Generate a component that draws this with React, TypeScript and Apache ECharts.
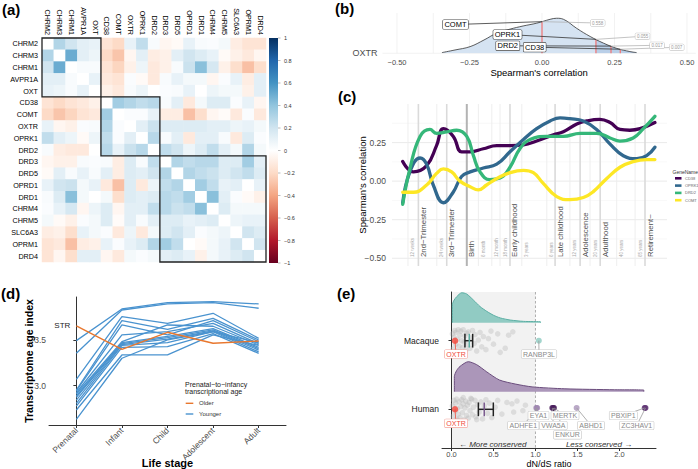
import React, { useEffect, useRef } from 'react';
import * as echarts from 'echarts';

const FONT = '"Liberation Sans", Arial, Helvetica, sans-serif';
const W = 698;
const H = 469;

// ---------------- (a) correlation heatmap ----------------
const genes = ['CHRM2', 'CHRM3', 'CHRM1', 'AVPR1A', 'OXT', 'CD38', 'COMT', 'OXTR', 'OPRK1', 'DRD2', 'DRD3', 'DRD5', 'OPRD1', 'DRD1', 'CHRM4', 'CHRM5', 'SLC6A3', 'OPRM1', 'DRD4'];
// upper triangle, row i holds correlations with genes i+1 .. end
const corrUpper = [
  [0.30, 0.20, 0.12, 0.10, -0.15, -0.20, 0.10, 0.25, 0.03, -0.05, -0.03, 0.10, 0.03, 0.02, 0.05, -0.10, -0.15, -0.15],
  [0.50, 0.12, 0.08, -0.20, -0.28, -0.05, 0.12, -0.10, -0.08, 0.12, 0.20, 0.15, 0.10, -0.03, -0.08, -0.12, -0.05],
  [0.03, 0.03, -0.15, -0.22, -0.08, 0.08, -0.12, -0.08, 0.03, 0.22, 0.42, 0.18, -0.08, -0.18, -0.30, -0.18],
  [0.10, -0.12, -0.15, 0.02, -0.03, -0.12, 0.03, 0.10, 0.05, 0.05, -0.05, 0.02, 0.10, -0.10, 0.12],
  [-0.08, -0.12, 0.03, 0.08, 0.00, 0.02, 0.03, 0.10, 0.00, 0.08, 0.05, 0.05, -0.08, 0.12],
  [0.35, 0.30, 0.25, 0.28, 0.03, 0.12, -0.12, 0.05, 0.15, 0.15, 0.02, 0.10, -0.05],
  [0.02, 0.02, 0.10, -0.10, -0.10, -0.30, -0.18, -0.05, -0.02, -0.12, 0.02, -0.12],
  [0.12, 0.22, 0.15, 0.15, 0.15, 0.15, 0.12, 0.12, 0.08, 0.10, 0.05],
  [0.28, 0.03, 0.12, -0.12, 0.12, 0.12, 0.03, -0.12, 0.15, 0.02],
  [0.25, 0.20, 0.08, 0.15, 0.25, 0.12, 0.05, 0.30, 0.05],
  [0.30, 0.25, 0.28, 0.28, 0.15, 0.15, 0.35, 0.12],
  [0.30, 0.25, 0.22, 0.15, 0.20, 0.25, 0.15],
  [0.35, 0.25, 0.10, 0.12, 0.00, 0.10],
  [0.42, 0.12, 0.02, -0.03, -0.08],
  [0.15, 0.05, 0.05, 0.05],
  [0.08, 0.10, 0.10],
  [0.20, 0.15],
  [0.20],
];
const geneBlocks = [[0, 4], [5, 9], [10, 18]];
const colorbarTicks = [1, 0.8, 0.6, 0.4, 0.2, 0, -0.2, -0.4, -0.6, -0.8, -1];

// ---------------- (b) OXTR ridge ----------------
const ridgeCorr = [-0.345, -0.30, -0.248, -0.20, -0.157, -0.11, -0.065, -0.018, 0.028, 0.05, 0.074, 0.12, 0.166, 0.212, 0.258, 0.303, 0.326];
const ridgeDensity = [0.02, 0.095, 0.19, 0.38, 0.57, 0.69, 0.78, 0.86, 0.97, 1.0, 0.97, 0.71, 0.48, 0.29, 0.14, 0.05, 0.02];
const oxtrPartners = ['COMT', 'OPRK1', 'DRD2', 'CD38'];
const oxtrCorr = [0.0, 0.186, 0.238, 0.27];
const oxtrPValues = ['0.558', '0.055', '0.017', '0.007'];
const ridgeTicks = [-0.5, -0.25, 0, 0.25, 0.5];
const ridgeGridLines = [-0.5, -0.375, -0.25, -0.125, 0, 0.125, 0.25, 0.375, 0.5];

// ---------------- (c) developmental trajectories ----------------
const trendGenes = ['CD38', 'OPRK1', 'DRD2', 'COMT'];
const cd38Trend = [[3.9, 0.127], [7.8, 0.06], [12.6, 0.10], [16.2, 0.23], [18.7, 0.34], [22.3, 0.29], [25.3, 0.19], [28.4, 0.19], [33.2, 0.21], [38.1, 0.23], [42.9, 0.23], [47.8, 0.235], [52.6, 0.26], [58.7, 0.30], [62.3, 0.32], [67.2, 0.37], [70.8, 0.39], [75.6, 0.40], [79.3, 0.38], [82.9, 0.335], [86.5, 0.33], [90.2, 0.34], [95.6, 0.38]];
const oprk1Trend = [[3.9, -0.14], [6.5, 0.06], [10.2, 0.15], [12.6, 0.11], [15.0, -0.025], [18.7, -0.14], [22.3, -0.07], [25.3, 0.03], [28.4, 0.06], [33.2, 0.085], [38.1, 0.11], [42.9, 0.19], [47.8, 0.27], [52.6, 0.34], [57.5, 0.39], [61.1, 0.41], [64.7, 0.405], [69.6, 0.39], [74.4, 0.335], [79.3, 0.24], [84.1, 0.165], [89.0, 0.145], [92.6, 0.165], [95.6, 0.22]];
const drd2Trend = [[3.9, -0.15], [6.5, 0.08], [10.2, 0.29], [13.8, 0.335], [16.2, 0.31], [19.9, 0.32], [23.5, 0.33], [27.2, 0.29], [29.6, 0.165], [32.0, 0.06], [35.6, 0.01], [39.3, 0.02], [42.9, 0.09], [46.5, 0.21], [50.2, 0.27], [56.2, 0.29], [62.3, 0.29], [68.4, 0.31], [74.4, 0.31], [79.3, 0.28], [82.9, 0.26], [87.7, 0.28], [91.4, 0.34], [95.6, 0.42]];
const comtTrend = [[3.9, -0.072], [7.8, -0.072], [12.6, -0.025], [16.2, 0.05], [18.7, 0.08], [21.7, 0.06], [24.7, 0.0], [28.4, -0.036], [31.4, -0.057], [34.4, -0.025], [38.1, 0.017], [42.9, 0.055], [47.8, 0.07], [51.4, 0.055], [55.0, -0.015], [59.9, -0.10], [64.7, -0.12], [69.6, -0.106], [73.2, -0.068], [78.1, 0.017], [82.9, 0.09], [87.7, 0.127], [92.6, 0.14], [95.6, 0.14]];
const devStages = ['12 weeks', '2nd\u2212Trimester', '24 weeks', '3rd\u2212Trimester', 'Birth', '6 month', '12 month', '18 month', 'Early childhood', '3 years', '6 years', 'Late childhood', '12 years', 'Adolescence', '20 years', 'Adulthood', '40 years', '65 years', 'Retirement~'];
const devStagePos = [5.8, 9.6, 16.3, 19.9, 27.2, 31.4, 36.3, 39.3, 42.9, 47.2, 56.3, 59.3, 64.7, 68.4, 72.0, 75.7, 81.7, 88.4, 92.0];
const devStageMajor = [false, true, false, true, true, false, false, false, true, false, false, true, false, true, false, true, false, false, true];
const corrTicks = [-0.5, -0.25, 0, 0.25];

// ---------------- (d) transcriptome age ----------------
const lifeStages = ['Prenatal', 'Infant', 'Child', 'Adolescent', 'Adult'];
const strAgeIndex = [3.653, 3.398, 3.584, 3.464, 3.489];
const youngerAgeIndex = [
  [3.493, 3.839, 3.909, 3.920, 3.894],
  [3.354, 3.828, 3.894, 3.909, 3.847],
  [3.069, 3.755, 3.682, 3.792, 3.518],
  [2.953, 3.712, 3.617, 3.737, 3.500],
  [2.942, 3.664, 3.555, 3.712, 3.482],
  [2.923, 3.555, 3.591, 3.682, 3.460],
  [2.909, 3.482, 3.664, 3.650, 3.445],
  [2.887, 3.470, 3.540, 3.625, 3.420],
  [2.872, 3.460, 3.525, 3.610, 3.405],
  [2.843, 3.450, 3.510, 3.600, 3.390],
  [2.807, 3.440, 3.470, 3.590, 3.370],
  [2.777, 3.420, 3.427, 3.570, 3.354],
  [2.734, 3.336, 3.336, 3.555, 3.440],
  [2.631, 3.300, 3.500, 3.590, 3.470],
];
const ageTicks = [3.0, 3.5];

// ---------------- (e) dN/dS ----------------
const species = ['Human', 'Macaque'];
const dndsTicks = [0, 0.5, 1, 1.5, 2];
const macaqueDensityX = [0.01, 0.01, 0.03, 0.062, 0.122, 0.18, 0.26, 0.34, 0.42, 0.50, 0.58, 0.70, 0.86, 1.06, 1.06];
const macaqueDensity = [0, 0.6, 0.75, 0.87, 1.0, 0.96, 0.76, 0.54, 0.38, 0.25, 0.16, 0.09, 0.045, 0.03, 0];
const humanDensityX = [0.034, 0.034, 0.06, 0.10, 0.20, 0.30, 0.42, 0.57, 0.76, 0.96, 1.35, 1.94, 2.29, 2.29];
const humanDensity = [0, 0.5, 0.7, 0.84, 1.0, 0.9, 0.66, 0.39, 0.255, 0.16, 0.096, 0.064, 0.053, 0];
const macaqueDnds = [0.01, 0.02, 0.03, 0.04, 0.05, 0.05, 0.06, 0.07, 0.08, 0.09, 0.10, 0.10, 0.11, 0.12, 0.13, 0.14, 0.15, 0.16, 0.17, 0.18, 0.19, 0.20, 0.22, 0.23, 0.25, 0.27, 0.28, 0.30, 0.32, 0.34, 0.36, 0.38, 0.41, 0.44, 0.47, 0.50, 0.55, 0.58, 0.64, 0.68, 0.73];
const macaqueJitter = [0.10, -0.12, 0.05, 0.15, -0.05, 0.12, -0.15, 0.02, 0.16, -0.08, 0.08, -0.16, 0.14, 0.00, -0.10, 0.16, -0.02, 0.07, -0.14, 0.11, -0.06, 0.13, -0.11, 0.04, 0.15, -0.04, 0.09, -0.15, 0.01, 0.12, -0.09, 0.06, -0.13, 0.03, 0.14, -0.05, 0.10, -0.17, -0.11, 0.08, 0.13];
const humanDnds = [0.01, 0.02, 0.03, 0.04, 0.05, 0.06, 0.06, 0.07, 0.08, 0.09, 0.10, 0.11, 0.12, 0.13, 0.14, 0.15, 0.16, 0.17, 0.18, 0.19, 0.20, 0.21, 0.22, 0.24, 0.25, 0.26, 0.28, 0.29, 0.31, 0.33, 0.35, 0.37, 0.39, 0.41, 0.43, 0.45, 0.48, 0.52, 0.55, 0.60, 0.66, 0.72, 0.74, 0.78, 0.85, 0.88, 0.08, 0.14, 0.23, 0.30];
const humanJitter = [0.05, -0.10, 0.13, -0.03, 0.09, -0.14, 0.15, 0.01, -0.07, 0.11, -0.12, 0.04, 0.14, -0.05, 0.08, -0.15, 0.02, 0.12, -0.09, 0.06, -0.13, 0.10, -0.02, 0.15, -0.08, 0.03, 0.13, -0.11, 0.07, -0.04, 0.11, -0.14, 0.05, 0.14, -0.06, 0.09, -0.12, 0.03, 0.13, -0.07, 0.10, 0.08, -0.04, 0.12, -0.02, 0.06, -0.16, 0.17, 0.16, -0.15];
const macaqueCI = [0.16, 0.252];
const macaqueMedian = 0.212;
const humanCI = [0.32, 0.498];
const humanMedian = 0.39;
const oxtrDnds = [0.042, 0.042]; // human, macaque
const macaqueOutliers = ['RANBP3L'];
const macaqueOutlierDnds = [1.04];
const humanOutliers = ['EYA1', 'ADHFE1', 'VWA5A', 'MERTK', 'ENKUR', 'ABHD1', 'PBXIP1', 'ZC3HAV1'];
const humanOutlierDnds = [1.01, 1.02, 1.2, 1.22, 1.21, 1.49, 2.3, 2.31];

// ---------------- styles / layout ----------------
const RDBU = ['#67001F', '#B2182B', '#D6604D', '#F4A582', '#FDDBC7', '#FFFFFF', '#D1E5F0', '#92C5DE', '#4393C3', '#2166AC', '#053061'];
const GENE_COLORS = ['#440154', '#31688E', '#35B779', '#FDE725'];
const ORANGE = '#E8772E';
const BLUE = '#4A93CF';
const TEAL_FILL = '#86c7be';
const TEAL_LINE = '#5aaea3';
const PURPLE_FILL = '#a38cb3';
const PURPLE_LINE = '#6a4c7c';
const HUMAN_OUTLIER_COLORS = ['#9c83ae', '#9c83ae', '#4b1f5e', '#3f1652', '#4b1f5e', '#a993b9', '#5c2f70', '#5c2f70'];
const MACAQUE_OUTLIER_COLORS = ['#8ccac1'];

const GRID_A = { left: 42, top: 38, width: 224, height: 224 };
const LAYOUT = {
  bLabel: [[455.5, 24.5], [507.5, 34.5], [507.8, 45.8], [534.7, 47.2]],
  bPLabel: [[597.7, 23], [642.5, 36.3], [657, 45.3], [676.7, 47.3]],
  eMacaqueLabels: { OXTR: [456, 354], RANBP3L: [539, 354] } as Record<string, number[]>,
  eHumanLabels: { OXTR: [456, 423.3], EYA1: [538.5, 415.5], ADHFE1: [523.3, 425.5], VWA5A: [553.3, 425.5], MERTK: [565, 415.5], ENKUR: [567.5, 434.8], ABHD1: [591, 425.5], PBXIP1: [623.3, 415.5], ZC3HAV1: [636.7, 425.5] } as Record<string, number[]>,
};

const fmtSigned = (v: number, d: number) => (v < -1e-9 ? '\u2212' : '') + Math.abs(v).toFixed(d);

function buildHeat() {
  const n = genes.length;
  const out: number[][] = [];
  for (let i = 0; i < n; i++) {
    for (let j = 0; j < n; j++) {
      let v = 0;
      if (i < j) v = corrUpper[i][j - i - 1];
      else if (i > j) v = corrUpper[j][i - j - 1];
      out.push([j, i, v]);
    }
  }
  return out;
}

function interp(xs: number[], ys: number[], x: number) {
  for (let i = 0; i < xs.length - 1; i++) {
    if (x >= xs[i] && x <= xs[i + 1]) {
      const t = (x - xs[i]) / (xs[i + 1] - xs[i] || 1);
      return ys[i] + t * (ys[i + 1] - ys[i]);
    }
  }
  return 0;
}

const vRule = (ax: number, values: number[], yRef: number, style: any, z = 1) => ({
  type: 'custom', xAxisIndex: ax, yAxisIndex: ax, silent: true, z, clip: false,
  data: values.map((v) => [v, yRef]),
  encode: { x: 0, y: 1 },
  renderItem: (params: any, api: any) => {
    const cs = params.coordSys;
    const x = api.coord([api.value(0), api.value(1)])[0];
    return { type: 'line', shape: { x1: x, y1: cs.y, x2: x, y2: cs.y + cs.height }, style };
  },
});
const hRule = (ax: number, values: number[], xRef: number, style: any, z = 1) => ({
  type: 'custom', xAxisIndex: ax, yAxisIndex: ax, silent: true, z, clip: false,
  data: values.map((v) => [xRef, v]),
  encode: { x: 0, y: 1 },
  renderItem: (params: any, api: any) => {
    const cs = params.coordSys;
    const y = api.coord([api.value(0), api.value(1)])[1];
    return { type: 'line', shape: { x1: cs.x, y1: y, x2: cs.x + cs.width, y2: y }, style };
  },
});

function buildOption() {
  const axisLine = { show: true, lineStyle: { color: '#333', width: 1 } };
  const tick = (vals: number[]) => ({ show: true, customValues: vals, length: 3, lineStyle: { color: '#333', width: 1 } });
  const noAxis = { axisLine: { show: false }, axisTick: { show: false }, splitLine: { show: false } };

  const ridgeData = ridgeCorr.map((x, i) => [x, ridgeDensity[i]]);
  const tailStart = oxtrCorr[1];
  const tailData = [[tailStart, interp(ridgeCorr, ridgeDensity, tailStart)], ...ridgeData.filter((p) => p[0] > tailStart)];

  const macBase = 2.262;
  const humBase = 1.257;
  const densPeak = 0.437;

  const series: any[] = [];
  // (a)
  series.push({ type: 'heatmap', xAxisIndex: 0, yAxisIndex: 0, data: buildHeat(), itemStyle: { borderWidth: 0 }, emphasis: { disabled: true } });
  // (b)
  series.push(vRule(1, ridgeGridLines, 0.5, { stroke: '#ececec', lineWidth: 0.7 }));
  series.push(hRule(1, [0], 0, { stroke: '#ececec', lineWidth: 0.7 }));
  series.push({ type: 'line', xAxisIndex: 1, yAxisIndex: 1, data: ridgeData, smooth: 0.4, showSymbol: false, silent: true, z: 2, lineStyle: { width: 0 }, areaStyle: { color: '#d5e3f2', opacity: 1 } });
  series.push({ type: 'line', xAxisIndex: 1, yAxisIndex: 1, data: tailData, smooth: 0.4, showSymbol: false, silent: true, z: 3, lineStyle: { width: 0 }, areaStyle: { color: '#b9cfe8', opacity: 1 } });
  series.push({
    type: 'custom', xAxisIndex: 1, yAxisIndex: 1, silent: true, z: 4,
    data: oxtrCorr.map((r) => [r, interp(ridgeCorr, ridgeDensity, r)]),
    encode: { x: 0, y: 1 },
    renderItem: (_p: any, api: any) => {
      const a = api.coord([api.value(0), 0]);
      const b = api.coord([api.value(0), api.value(1)]);
      return { type: 'line', shape: { x1: a[0], y1: a[1], x2: b[0], y2: b[1] }, style: { stroke: '#ee7b7b', lineWidth: 1.3 } };
    },
  });
  series.push({ type: 'line', xAxisIndex: 1, yAxisIndex: 1, data: ridgeData, smooth: 0.4, showSymbol: false, silent: true, z: 5, lineStyle: { color: '#333', width: 0.8 } });
  // (c)
  series.push(hRule(2, corrTicks, 50, { stroke: '#e8e8e8', lineWidth: 0.9 }));
  series.push(hRule(2, [-0.375, -0.125, 0.125, 0.375], 50, { stroke: '#f3f3f3', lineWidth: 0.6 }));
  series.push(vRule(2, devStagePos.filter((_, i) => !devStageMajor[i]), 0, { stroke: '#ececec', lineWidth: 0.9 }));
  series.push(vRule(2, devStagePos.filter((_, i) => devStageMajor[i] && devStages[i] !== 'Birth'), 0, { stroke: '#dadada', lineWidth: 1.6 }));
  series.push(vRule(2, devStagePos.filter((_, i) => devStages[i] === 'Birth'), 0, { stroke: '#b3b3b3', lineWidth: 2 }));
  [cd38Trend, oprk1Trend, drd2Trend, comtTrend].forEach((d, k) => {
    series.push({ type: 'line', name: trendGenes[k], xAxisIndex: 2, yAxisIndex: 2, data: d, smooth: 0.45, showSymbol: false, silent: true, z: 5, lineStyle: { color: GENE_COLORS[k], width: 3.3, cap: 'round' } });
  });
  // (d)
  youngerAgeIndex.forEach((row) => {
    series.push({ type: 'line', xAxisIndex: 3, yAxisIndex: 3, data: row.map((v, i) => [i, v]), showSymbol: false, silent: true, z: 3, lineStyle: { color: BLUE, width: 1.3 } });
  });
  series.push({ type: 'line', xAxisIndex: 3, yAxisIndex: 3, data: strAgeIndex.map((v, i) => [i, v]), showSymbol: false, silent: true, z: 4, lineStyle: { color: ORANGE, width: 1.4 } });
  // (e)
  series.push({
    type: 'custom', xAxisIndex: 4, yAxisIndex: 4, silent: true, z: 0, data: [[0, 1, 1]], encode: { x: [0, 1], y: 2 },
    renderItem: (params: any, api: any) => {
      const cs = params.coordSys;
      const a = api.coord([api.value(0), 1])[0];
      const b = api.coord([api.value(1), 1])[0];
      return { type: 'rect', shape: { x: a, y: cs.y, width: b - a, height: cs.height }, style: { fill: '#f2f2f2' } };
    },
  });
  series.push(vRule(4, [1], 1, { stroke: '#9a9a9a', lineWidth: 0.8, lineDash: [2.5, 2] }, 1));
  series.push({ type: 'line', xAxisIndex: 4, yAxisIndex: 4, data: macaqueDensityX.map((x, i) => [x, macBase + macaqueDensity[i] * densPeak]), smooth: 0.25, showSymbol: false, silent: true, z: 2, lineStyle: { color: TEAL_LINE, width: 1 }, areaStyle: { color: TEAL_FILL, opacity: 0.9, origin: macBase } });
  series.push({ type: 'line', xAxisIndex: 4, yAxisIndex: 4, data: humanDensityX.map((x, i) => [x, humBase + humanDensity[i] * densPeak]), smooth: 0.25, showSymbol: false, silent: true, z: 2, lineStyle: { color: PURPLE_LINE, width: 1 }, areaStyle: { color: PURPLE_FILL, opacity: 0.9, origin: humBase } });
  series.push({ type: 'scatter', xAxisIndex: 4, yAxisIndex: 4, silent: true, z: 3, symbolSize: 5.5, itemStyle: { color: 'rgba(180,180,180,0.45)' }, data: macaqueDnds.map((x, i) => [x, 2 + macaqueJitter[i]]) });
  series.push({ type: 'scatter', xAxisIndex: 4, yAxisIndex: 4, silent: true, z: 3, symbolSize: 5.5, itemStyle: { color: 'rgba(180,180,180,0.45)' }, data: humanDnds.map((x, i) => [x, 1 + humanJitter[i]]) });
  const ciColors = [TEAL_LINE, '#7a5a8e'];
  series.push({
    type: 'custom', xAxisIndex: 4, yAxisIndex: 4, silent: true, z: 6,
    data: [[macaqueCI[0], macaqueMedian, macaqueCI[1], 2], [humanCI[0], humanMedian, humanCI[1], 1]],
    encode: { x: [0, 1, 2], y: 3 },
    renderItem: (params: any, api: any) => {
      const yc = api.value(3);
      const c = 0.1;
      const ln = (xv: number, y1: number, y2: number, stroke: string) => {
        const p1 = api.coord([xv, y1]);
        const p2 = api.coord([xv, y2]);
        return { type: 'line', shape: { x1: p1[0], y1: p1[1], x2: p2[0], y2: p2[1] }, style: { stroke, lineWidth: 1.5 } };
      };
      const l = api.coord([api.value(0), yc]);
      const r = api.coord([api.value(2), yc]);
      return {
        type: 'group', children: [
          { type: 'line', shape: { x1: l[0], y1: l[1], x2: r[0], y2: r[1] }, style: { stroke: '#222', lineWidth: 1.5 } },
          ln(api.value(0), yc - c, yc + c, '#222'),
          ln(api.value(2), yc - c, yc + c, '#222'),
          ln(api.value(1), yc - c, yc + c, ciColors[params.dataIndex]),
        ],
      };
    },
  });
  series.push({ type: 'scatter', xAxisIndex: 4, yAxisIndex: 4, silent: true, z: 8, symbolSize: 6.5, itemStyle: { color: '#F5473B' }, data: [[oxtrDnds[1], 2], [oxtrDnds[0], 1]] });
  series.push({ type: 'scatter', xAxisIndex: 4, yAxisIndex: 4, silent: true, z: 8, symbolSize: 6, data: macaqueOutlierDnds.map((x, i) => ({ value: [x, 2], itemStyle: { color: MACAQUE_OUTLIER_COLORS[i] } })) });
  series.push({ type: 'scatter', xAxisIndex: 4, yAxisIndex: 4, silent: true, z: 8, symbolSize: 6, data: humanOutlierDnds.map((x, i) => ({ value: [x, 1.02], itemStyle: { color: HUMAN_OUTLIER_COLORS[i] } })) });

  const grids = [
    GRID_A,
    { left: 382.5, top: 13, width: 313.2, height: 40.3 },
    { left: 392, top: 104, width: 275, height: 162 },
    { left: 49, top: 297, width: 237, height: 128 },
    { left: 442, top: 292, width: 214, height: 156 },
  ].map((g) => ({ ...g, containLabel: false, outerBoundsMode: 'none' }));

  return {
    animation: false,
    backgroundColor: '#ffffff',
    textStyle: { fontFamily: FONT },
    grid: grids,
    visualMap: { show: false, type: 'continuous', min: -1, max: 1, seriesIndex: 0, inRange: { color: RDBU } },
    xAxis: [
      { type: 'category', gridIndex: 0, data: genes, position: 'top', ...noAxis, axisLabel: { rotate: 90, margin: 3, fontSize: 7.2, color: '#000', interval: 0, fontFamily: FONT } },
      { type: 'value', gridIndex: 1, min: -0.55, max: 0.53, ...noAxis, axisLabel: { customValues: ridgeTicks, formatter: (v: number) => fmtSigned(v, 2), fontSize: 7.5, color: '#4d4d4d', margin: 5, fontFamily: FONT }, name: "Spearman's correlation", nameLocation: 'middle', nameGap: 14, nameMoveOverlap: false, nameTextStyle: { fontSize: 9.5, color: '#000', fontFamily: FONT } },
      { type: 'value', gridIndex: 2, min: 0, max: 100, show: false },
      { type: 'value', gridIndex: 3, min: -0.6, max: 4.6, axisLine, axisTick: tick([0, 1, 2, 3, 4]), splitLine: { show: false }, axisLabel: { customValues: [0, 1, 2, 3, 4], formatter: (v: number) => lifeStages[Math.round(v)], rotate: 45, fontSize: 8.5, color: '#4d4d4d', margin: 4, fontFamily: FONT }, name: 'Life stage', nameLocation: 'middle', nameGap: 32, nameMoveOverlap: false, nameTextStyle: { fontSize: 11, fontWeight: 'bold', color: '#000', fontFamily: FONT } },
      { type: 'value', gridIndex: 4, min: -0.113, max: 2.435, axisLine, axisTick: tick(dndsTicks), splitLine: { show: false }, axisLabel: { customValues: dndsTicks, formatter: (v: number) => v.toFixed(1), fontSize: 7.5, color: '#4d4d4d', margin: 2.5, fontFamily: FONT }, name: 'dN/dS ratio', nameLocation: 'middle', nameGap: 11, nameMoveOverlap: false, nameTextStyle: { fontSize: 9, color: '#000', fontFamily: FONT } },
    ],
    yAxis: [
      { type: 'category', gridIndex: 0, data: genes, inverse: true, ...noAxis, axisLabel: { margin: 4, fontSize: 7.2, color: '#000', interval: 0, fontFamily: FONT } },
      { type: 'value', gridIndex: 1, min: 0, max: 1.15, ...noAxis, axisLabel: { customValues: [0], formatter: () => 'OXTR', fontSize: 9, color: '#4d4d4d', margin: 5, fontFamily: FONT } },
      { type: 'value', gridIndex: 2, min: -0.55, max: 0.5, ...noAxis, axisLabel: { customValues: corrTicks, formatter: (v: number) => fmtSigned(v, 2), fontSize: 8.5, color: '#4d4d4d', margin: 6, fontFamily: FONT }, name: "Spearman's correlation", nameLocation: 'middle', nameGap: 25, nameMoveOverlap: false, nameTextStyle: { fontSize: 9.5, color: '#000', fontFamily: FONT } },
      { type: 'value', gridIndex: 3, min: 2.57, max: 3.97, axisLine, axisTick: tick(ageTicks), splitLine: { show: false }, axisLabel: { customValues: ageTicks, formatter: (v: number) => v.toFixed(1), fontSize: 8.5, color: '#4d4d4d', margin: 3, fontFamily: FONT }, name: 'Transcriptome age index', nameLocation: 'middle', nameGap: 15, nameMoveOverlap: false, nameTextStyle: { fontSize: 10.5, fontWeight: 'bold', color: '#000', fontFamily: FONT } },
      { type: 'value', gridIndex: 4, min: 0.436, max: 2.71, axisLine, axisTick: tick([1, 2]), splitLine: { show: false }, axisLabel: { customValues: [1, 2], formatter: (v: number) => species[Math.round(v) - 1], fontSize: 8.5, color: '#222', margin: 3, fontFamily: FONT } },
    ],
    series,
  };
}

function txt(x: number, y: number, text: string, o: any = {}) {
  return {
    type: 'text', x, y, z: o.z ?? 50, rotation: o.rotation ?? 0, silent: true,
    style: {
      text, fill: o.fill ?? '#000', fontSize: o.size ?? 8, fontFamily: FONT,
      fontWeight: o.weight ?? 'normal', fontStyle: o.fstyle ?? 'normal',
      align: o.align ?? 'center', verticalAlign: o.va ?? 'middle',
      backgroundColor: o.bg, borderColor: o.border, borderWidth: o.bw, padding: o.pad, borderRadius: o.br,
    },
  };
}
function seg(x1: number, y1: number, x2: number, y2: number, stroke: string, lineWidth = 1, z = 40, lineDash?: number[]) {
  return { type: 'line', z, silent: true, shape: { x1, y1, x2, y2 }, style: { stroke, lineWidth, lineDash } };
}

function buildGraphics(chart: any) {
  const P = (g: number, x: number, y: number) => chart.convertToPixel({ gridIndex: g }, [x, y]) as number[];
  const g: any[] = [];
  // panel letters
  g.push(txt(2, 2, '(a)', { size: 15, weight: 'bold', align: 'left', va: 'top' }));
  g.push(txt(335, 1, '(b)', { size: 15, weight: 'bold', align: 'left', va: 'top' }));
  g.push(txt(338, 89, '(c)', { size: 15, weight: 'bold', align: 'left', va: 'top' }));
  g.push(txt(1, 286, '(d)', { size: 15, weight: 'bold', align: 'left', va: 'top' }));
  g.push(txt(337, 286, '(e)', { size: 15, weight: 'bold', align: 'left', va: 'top' }));

  // (a) blocks
  const cell = GRID_A.width / genes.length;
  geneBlocks.forEach(([a, b]) => {
    g.push({ type: 'rect', z: 30, silent: true, shape: { x: GRID_A.left + a * cell, y: GRID_A.top + a * cell, width: (b - a + 1) * cell, height: (b - a + 1) * cell }, style: { fill: 'none', stroke: '#222', lineWidth: 1.3 } });
  });
  // (a) colorbar
  const cbX = 269, cbY = GRID_A.top, cbW = 9, cbH = GRID_A.height + 1;
  g.push({
    type: 'rect', z: 30, silent: true, shape: { x: cbX, y: cbY, width: cbW, height: cbH },
    style: { fill: new echarts.graphic.LinearGradient(0, 0, 0, 1, RDBU.slice().reverse().map((c, i) => ({ offset: i / (RDBU.length - 1), color: c }))) },
  });
  colorbarTicks.forEach((v) => {
    const y = cbY + ((1 - v) / 2) * cbH;
    g.push(seg(cbX + cbW, y, cbX + cbW + 2.5, y, '#777', 0.5, 30));
    g.push(txt(cbX + 15, y, v === 0 ? '0' : fmtSigned(v, Number.isInteger(v) ? 0 : 1), { size: 5.5, fill: '#333', align: 'left' }));
  });

  // (b) annotations
  oxtrPartners.forEach((name, k) => {
    const r = oxtrCorr[k];
    const top = P(1, r, interp(ridgeCorr, ridgeDensity, r));
    const [lx, ly] = LAYOUT.bLabel[k];
    const [px, py] = LAYOUT.bPLabel[k];
    g.push(seg(lx, ly, top[0], top[1], '#333', 0.8, 40));
    g.push(seg(top[0], top[1], px, py, '#aaa', 0.7, 40));
    g.push(txt(lx, ly, name, { size: 7.5, fill: '#000', bg: '#fff', border: '#444', bw: 0.6, pad: [0.5, 1.5], br: 1, z: 60 }));
    g.push(txt(px, py, oxtrPValues[k], { size: 4.5, fill: '#999', bg: '#fff', border: '#bbb', bw: 0.5, pad: [0.5, 1.5], br: 1, z: 60 }));
  });

  // (c) stage labels
  devStages.forEach((s, i) => {
    const p = P(2, devStagePos[i], 0);
    const major = devStageMajor[i];
    g.push(txt(p[0] + 5, 257, s, { size: major ? 7.8 : 4.5, fill: major ? '#4d4d4d' : '#a8a8a8', rotation: Math.PI / 2, align: 'left', va: 'middle', z: 20 }));
  });
  // (c) legend
  g.push(txt(672.5, 171.7, 'GeneName', { size: 5, fill: '#333', align: 'left' }));
  trendGenes.forEach((name, k) => {
    const y = 178.3 + k * 7.3;
    g.push(seg(675, y, 681.5, y, GENE_COLORS[k], 2.6, 40));
    g.push(txt(685, y, name, { size: 4, fill: '#666', align: 'left' }));
  });

  // (d) STR label + legend
  const strP = P(3, 0, strAgeIndex[0]);
  g.push(txt(strP[0] - 14, strP[1], 'STR', { size: 8, fill: '#222' }));
  g.push(txt(185, 384.5, 'Prenatal\u2212to\u2212infancy', { size: 7, fill: '#222', align: 'left' }));
  g.push(txt(185, 391.5, 'transcriptional age', { size: 7, fill: '#222', align: 'left' }));
  g.push(seg(185.7, 403.3, 193.3, 403.3, ORANGE, 1.4));
  g.push(txt(199, 403.3, 'Older', { size: 6, fill: '#333', align: 'left' }));
  g.push(seg(185.7, 414, 193.3, 414, BLUE, 1.4));
  g.push(txt(199, 414, 'Younger', { size: 6, fill: '#333', align: 'left' }));

  // (e) annotations
  const red = '#F04B3C';
  const addLabel = (gene: string, xv: number, yv: number, pos: number[], isRed: boolean) => {
    const p = P(4, xv, yv);
    g.push(seg(p[0], p[1], pos[0], pos[1], isRed ? red : '#9a9a9a', 0.8, 40));
    g.push(txt(pos[0], pos[1], gene, { size: 7, fill: isRed ? red : '#8a8a8a', bg: '#fff', border: isRed ? '#f4a39b' : '#c8c8c8', bw: 0.6, pad: [0.5, 1.5], br: 1, z: 60 }));
  };
  addLabel('OXTR', oxtrDnds[1], 2, LAYOUT.eMacaqueLabels.OXTR, true);
  addLabel('OXTR', oxtrDnds[0], 1, LAYOUT.eHumanLabels.OXTR, true);
  macaqueOutliers.forEach((gname, i) => addLabel(gname, macaqueOutlierDnds[i], 2, LAYOUT.eMacaqueLabels[gname], false));
  humanOutliers.forEach((gname, i) => addLabel(gname, humanOutlierDnds[i], 1.02, LAYOUT.eHumanLabels[gname], false));
  g.push(txt(492.7, 444.3, '\u2190 More conserved', { size: 8, fstyle: 'italic', fill: '#333' }));
  g.push(txt(599, 444.3, 'Less conserved \u2192', { size: 8, fstyle: 'italic', fill: '#333' }));
  return g;
}

export default function App() {
  const ref = useRef<HTMLDivElement>(null);
  useEffect(() => {
    const el = ref.current;
    if (!el) return;
    const chart = echarts.init(el, undefined, { renderer: 'svg', width: W, height: H });
    chart.setOption(buildOption() as any);
    chart.setOption({ graphic: buildGraphics(chart) } as any);
    return () => chart.dispose();
  }, []);
  return <div ref={ref} style={{ position: 'absolute', left: 0, top: 0, width: W, height: H, background: '#fff' }} />;
}
